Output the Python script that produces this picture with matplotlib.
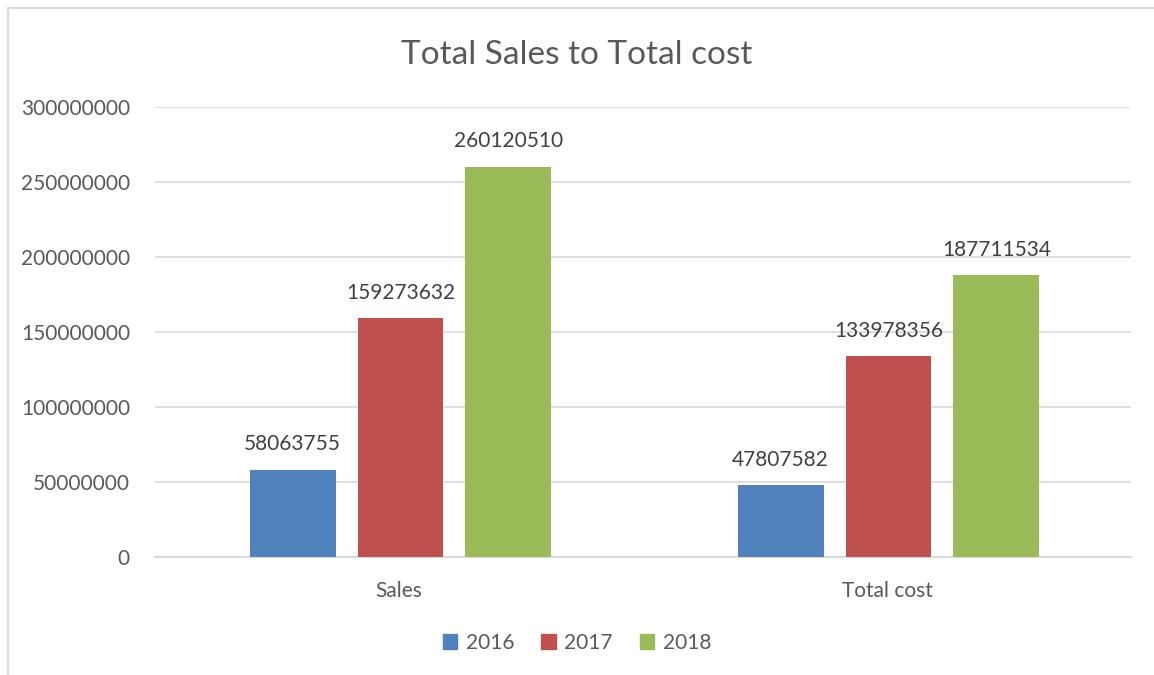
import numpy as np
import matplotlib.pyplot as plt
from matplotlib.lines import Line2D

categories = ['Sales', 'Total cost']
years = ['2016', '2017', '2018']
v2016 = [58063755, 47807582]
v2017 = [159273632, 133978356]
v2018 = [260120510, 187711534]
colors = ['#4f81bd', '#c0504d', '#9bbb59']

plt.rcParams['font.family'] = ['Lato', 'DejaVu Sans']

fig = plt.figure(figsize=(11.54, 6.75), dpi=100)
ax = fig.add_axes([155/1154, 1-557/675, 976/1154, 450/675])

x = np.arange(len(categories))
w = 0.176
step = 0.221
for i, (vals, c) in enumerate(zip([v2016, v2017, v2018], colors)):
    bars = ax.bar(x + (i-1)*step + 0.003, vals, w, color=c, label=years[i], zorder=3)
    for b, v in zip(bars, vals):
        ax.text(b.get_x() + b.get_width()/2, v + 17e6, str(v), ha='center', va='center',
                fontsize=15, color='#404040')

ax.set_xlim(-0.5, 1.5)
ax.set_ylim(0, 300000000)
ax.set_yticks(np.arange(0, 300000001, 50000000))
ax.set_yticklabels([str(t) for t in range(0, 300000001, 50000000)])
ax.set_xticks(x)
ax.set_xticklabels(categories)
ax.tick_params(axis='both', length=0, labelsize=15, labelcolor='#595959')
ax.tick_params(axis='y', pad=18)
ax.tick_params(axis='x', pad=17)
ax.grid(axis='y', color='#d9d9d9', linewidth=1.2, zorder=0)
for s in ['top', 'right', 'left']:
    ax.spines[s].set_visible(False)
ax.spines['bottom'].set_color('#d9d9d9')
ax.spines['bottom'].set_linewidth(1.5)

fig.text(0.5, 1-55/675, 'Total Sales to Total cost', ha='center', va='center',
         fontsize=24, color='#595959')

handles = [plt.Rectangle((0, 0), 1, 1, color=c) for c in colors]
fig.legend(handles, years, loc='center', bbox_to_anchor=(0.5, 1-643/675), ncol=3,
           frameon=False, fontsize=15, handlelength=0.7, handleheight=0.7,
           handletextpad=0.4, columnspacing=1.3, labelcolor='#595959')

# chart border (cropped at right and bottom)
fig.add_artist(Line2D([8/1154, 8/1154], [0, 1-8/675], color='#d9d9d9', lw=1.5))
fig.add_artist(Line2D([8/1154, 1], [1-8/675, 1-8/675], color='#d9d9d9', lw=1.5))

fig.savefig('out.png', dpi=100)
